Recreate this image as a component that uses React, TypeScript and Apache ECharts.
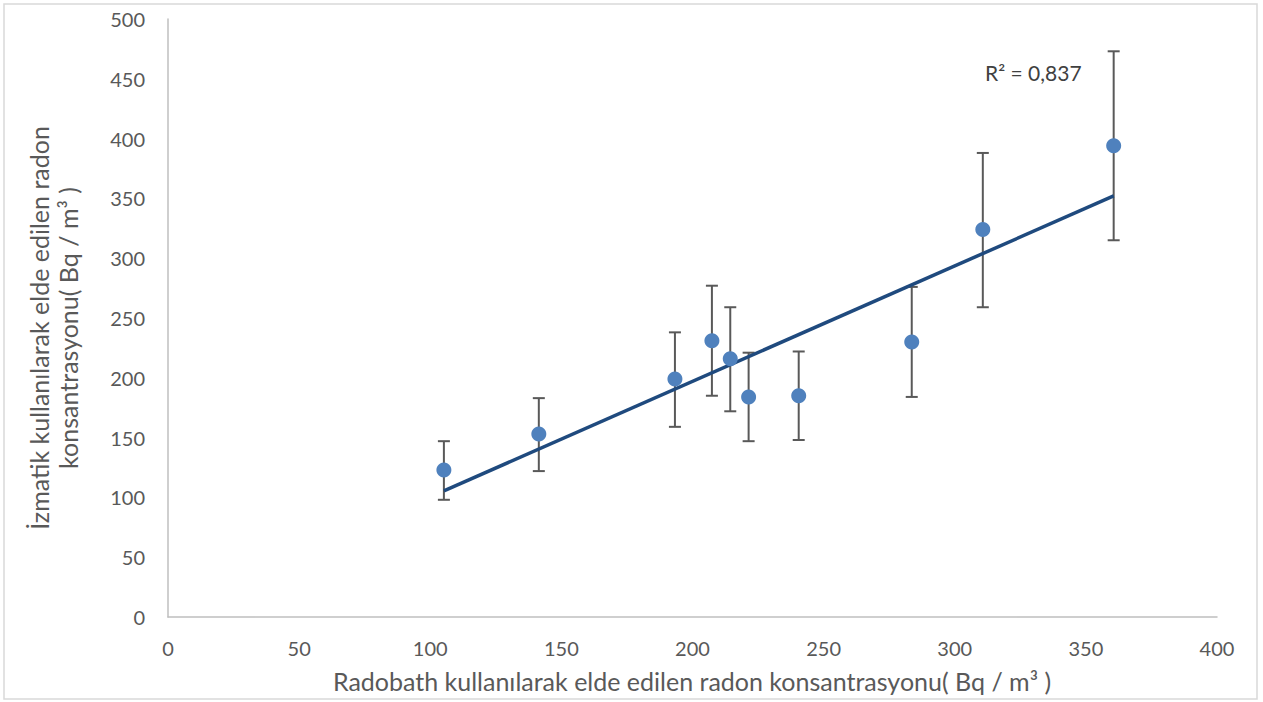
import React, { useEffect, useRef } from "react";
import * as echarts from "echarts";

const radobath = [105.2, 141.4, 193.3, 207.4, 214.4, 221.4, 240.5, 283.6, 310.7, 360.6];
const izmatik = [123, 153, 199, 231, 216, 184, 185, 230, 324, 394];
const errUpper = [147, 183, 238, 277, 259, 221, 222, 276, 388, 473];
const errLower = [98, 122, 159, 185, 172, 147, 148, 184, 259, 315];
const r2Label = "R² = 0,837";
const xTitle = "Radobath kullanılarak elde edilen radon konsantrasyonu( Bq / m³ )";
const yTitle = "İzmatik kullanılarak elde edilen radon\nkonsantrasyonu( Bq / m³ )";

const FONT = "Lato, 'Open Sans', sans-serif";

function regression(xs: number[], ys: number[]) {
  const n = xs.length;
  const mx = xs.reduce((a, b) => a + b, 0) / n;
  const my = ys.reduce((a, b) => a + b, 0) / n;
  let sxy = 0, sxx = 0;
  for (let i = 0; i < n; i++) {
    sxy += (xs[i] - mx) * (ys[i] - my);
    sxx += (xs[i] - mx) * (xs[i] - mx);
  }
  const slope = sxy / sxx;
  return { slope, intercept: my - slope * mx };
}

export default function App() {
  const ref = useRef<HTMLDivElement>(null);
  useEffect(() => {
    document.body.style.margin = "0";
    if (!ref.current) return;
    const chart = echarts.init(ref.current, undefined, { renderer: "svg" });
    const { slope, intercept } = regression(radobath, izmatik);
    const xMin = Math.min(...radobath);
    const xMax = Math.max(...radobath);
    const trend = [
      [xMin, intercept + slope * xMin],
      [xMax, intercept + slope * xMax],
    ];
    const points = radobath.map((x, i) => [x, izmatik[i]]);
    const errData = radobath.map((x, i) => [x, errLower[i], errUpper[i]]);

    chart.setOption({
      animation: false,
      backgroundColor: "#ffffff",
      grid: { left: 168, right: 46, top: 19, bottom: 85 },
      xAxis: {
        type: "value",
        min: 0,
        max: 400,
        interval: 50,
        axisLine: { show: true, lineStyle: { color: "#bfbfbf", width: 1.5 } },
        axisTick: { show: false },
        splitLine: { show: false },
        axisLabel: { color: "#595959", fontSize: 20, fontFamily: FONT, margin: 21 },
      },
      yAxis: {
        type: "value",
        min: 0,
        max: 500,
        interval: 50,
        axisLine: { show: true, lineStyle: { color: "#bfbfbf", width: 1.5 } },
        axisTick: { show: false },
        splitLine: { show: false },
        axisLabel: { color: "#595959", fontSize: 20, fontFamily: FONT, margin: 23 },
      },
      graphic: [
        {
          type: "rect",
          shape: { x: 4, y: 4, width: 1253, height: 695 },
          style: { fill: "none", stroke: "#d9d9d9", lineWidth: 1.5 },
          silent: true,
        },
        {
          type: "text",
          x: 692,
          y: 681,
          style: {
            text: xTitle,
            fill: "#595959",
            font: `25px ${FONT}`,
            align: "center",
            verticalAlign: "middle",
          },
        },
        {
          type: "text",
          x: 53,
          y: 328,
          rotation: Math.PI / 2,
          style: {
            text: yTitle,
            fill: "#595959",
            font: `25px ${FONT}`,
            align: "center",
            verticalAlign: "middle",
            lineHeight: 29,
          },
        },
        {
          type: "text",
          x: 985,
          y: 72,
          style: {
            text: r2Label,
            fill: "#404040",
            font: `21px ${FONT}`,
            align: "left",
            verticalAlign: "middle",
          },
        },
      ],
      series: [
        {
          type: "custom",
          data: errData,
          z: 1,
          renderItem: (params: any, api: any) => {
            const x = api.value(0);
            const lo = api.coord([x, api.value(1)]);
            const hi = api.coord([x, api.value(2)]);
            const cap = 6;
            const style = { stroke: "#595959", lineWidth: 2 };
            return {
              type: "group",
              children: [
                { type: "line", shape: { x1: lo[0], y1: lo[1], x2: hi[0], y2: hi[1] }, style },
                { type: "line", shape: { x1: lo[0] - cap, y1: lo[1], x2: lo[0] + cap, y2: lo[1] }, style },
                { type: "line", shape: { x1: hi[0] - cap, y1: hi[1], x2: hi[0] + cap, y2: hi[1] }, style },
              ],
            };
          },
        },
        {
          type: "line",
          data: trend,
          z: 2,
          symbol: "none",
          lineStyle: { color: "#1f4a7e", width: 3.5 },
        },
        {
          type: "scatter",
          data: points,
          z: 3,
          symbol: "circle",
          symbolSize: 15,
          itemStyle: { color: "#4f81bd", opacity: 1 },
        },
      ],
    });
    return () => chart.dispose();
  }, []);
  return <div ref={ref} style={{ width: 1263, height: 702 }} />;
}
